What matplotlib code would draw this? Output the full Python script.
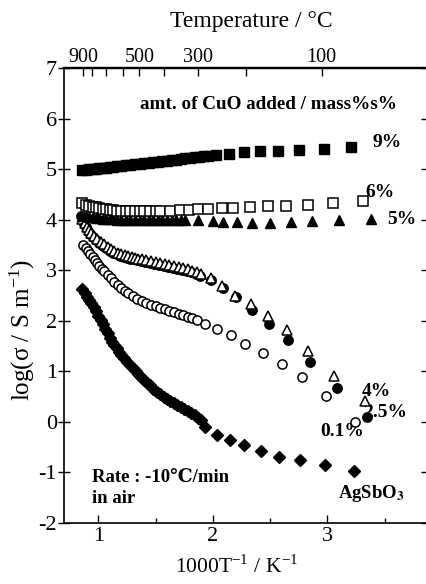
# Arrhenius plot of AgSbO3 with CuO additions (recreated)

import matplotlib
matplotlib.use("Agg")
import matplotlib.pyplot as plt

plt.rcParams['font.family'] = ['Liberation Serif', 'DejaVu Serif', 'DejaVu Sans']
plt.rcParams['mathtext.fontset'] = 'stix'
plt.rcParams['axes.unicode_minus'] = False

# --- data: x = 1000/T (K^-1), y = log(sigma / S m^-1) ---
cu9_x = [0.86, 0.89, 0.92, 0.95, 0.98, 1.01, 1.04, 1.07, 1.10, 1.13, 1.16, 1.20, 1.24,
         1.28, 1.32, 1.36, 1.40, 1.44, 1.48, 1.52, 1.56, 1.60, 1.64, 1.68, 1.72, 1.76,
         1.80, 1.84, 1.88, 1.92, 1.96, 2.03, 2.14, 2.27, 2.41, 2.57, 2.75, 2.97, 3.21]
cu9_y = [4.98, 4.99, 5.00, 5.00, 5.01, 5.02, 5.03, 5.03, 5.04, 5.05, 5.06, 5.07, 5.08,
         5.09, 5.10, 5.11, 5.12, 5.13, 5.14, 5.15, 5.16, 5.17, 5.18, 5.19, 5.20, 5.21,
         5.22, 5.23, 5.24, 5.25, 5.26, 5.27, 5.30, 5.33, 5.35, 5.36, 5.37, 5.40, 5.43]

cu6_x = [0.86, 0.89, 0.92, 0.95, 0.98, 1.01, 1.04, 1.07, 1.10, 1.13, 1.16, 1.20, 1.24,
         1.28, 1.32, 1.36, 1.40, 1.45, 1.50, 1.54, 1.63, 1.71, 1.79, 1.87, 1.96, 2.08,
         2.18, 2.32, 2.48, 2.64, 2.83, 3.05, 3.31]
cu6_y = [4.32, 4.30, 4.28, 4.26, 4.25, 4.23, 4.22, 4.21, 4.20, 4.19, 4.18, 4.18, 4.17,
         4.17, 4.17, 4.17, 4.17, 4.17, 4.17, 4.17, 4.18, 4.19, 4.20, 4.21, 4.22, 4.23,
         4.24, 4.25, 4.27, 4.28, 4.30, 4.33, 4.37]

cu5_x = [0.86, 0.89, 0.92, 0.95, 0.98, 1.01, 1.04, 1.07, 1.10, 1.13, 1.16, 1.20, 1.24,
         1.28, 1.32, 1.36, 1.40, 1.44, 1.48, 1.52, 1.56, 1.60, 1.64, 1.68, 1.72, 1.76,
         1.87, 2.00, 2.09, 2.21, 2.34, 2.50, 2.68, 2.87, 3.10, 3.38]
cu5_y = [4.08, 4.07, 4.06, 4.05, 4.04, 4.03, 4.02, 4.02, 4.01, 4.01, 4.00, 4.00, 3.99,
         3.99, 3.99, 3.99, 3.99, 3.99, 4.00, 4.00, 4.00, 4.00, 4.00, 4.00, 4.00, 4.00,
         3.99, 3.97, 3.96, 3.95, 3.94, 3.94, 3.95, 3.97, 4.00, 4.02]

cu4_x = [0.86, 0.88, 0.90, 0.92, 0.94, 0.96, 0.99, 1.02, 1.05, 1.08, 1.11, 1.14, 1.17,
         1.20, 1.23, 1.26, 1.29, 1.32, 1.35, 1.38, 1.42, 1.46, 1.50, 1.54, 1.58, 1.62,
         1.66, 1.70, 1.74, 1.78, 1.82, 1.86, 1.90, 1.98, 2.08, 2.19, 2.33, 2.48, 2.65,
         2.83, 3.06, 3.33]
cu4_y = [4.02, 3.94, 3.86, 3.79, 3.73, 3.68, 3.62, 3.56, 3.51, 3.46, 3.42, 3.38, 3.35,
         3.32, 3.30, 3.28, 3.26, 3.25, 3.23, 3.22, 3.20, 3.18, 3.16, 3.14, 3.12, 3.10,
         3.08, 3.06, 3.04, 3.02, 2.99, 2.96, 2.92, 2.84, 2.68, 2.50, 2.34, 2.10, 1.81,
         1.41, 0.91, 0.42]

cu25_x = [0.85, 0.87, 0.89, 0.91, 0.93, 0.95, 0.98, 1.01, 1.04, 1.07, 1.10, 1.13, 1.16,
          1.19, 1.22, 1.25, 1.28, 1.31, 1.34, 1.37, 1.41, 1.45, 1.49, 1.53, 1.57, 1.61,
          1.65, 1.69, 1.73, 1.77, 1.81, 1.85, 1.89, 1.98, 2.09, 2.20, 2.34, 2.49, 2.66,
          2.85, 3.08, 3.35]
cu25_y = [4.08, 3.96, 3.86, 3.78, 3.71, 3.65, 3.59, 3.53, 3.48, 3.43, 3.39, 3.35, 3.32,
          3.29, 3.27, 3.25, 3.23, 3.22, 3.20, 3.19, 3.17, 3.15, 3.13, 3.11, 3.09, 3.07,
          3.05, 3.03, 3.01, 2.99, 2.96, 2.93, 2.89, 2.80, 2.64, 2.48, 2.22, 1.94, 1.61,
          1.19, 0.67, 0.10]

cu01_x = [0.87, 0.89, 0.91, 0.93, 0.95, 0.97, 0.99, 1.01, 1.03, 1.05, 1.08, 1.11, 1.14,
          1.17, 1.20, 1.23, 1.26, 1.30, 1.34, 1.38, 1.42, 1.46, 1.50, 1.54, 1.58, 1.62,
          1.66, 1.70, 1.74, 1.78, 1.82, 1.86, 1.93, 2.04, 2.16, 2.28, 2.44, 2.60, 2.78,
          2.99, 3.24]
cu01_y = [3.50, 3.44, 3.38, 3.33, 3.27, 3.21, 3.15, 3.09, 3.03, 2.98, 2.91, 2.84, 2.77,
          2.71, 2.65, 2.59, 2.54, 2.49, 2.44, 2.40, 2.36, 2.32, 2.29, 2.26, 2.23, 2.20,
          2.17, 2.14, 2.11, 2.08, 2.05, 2.02, 1.93, 1.83, 1.71, 1.55, 1.37, 1.15, 0.89,
          0.52, 0.00]

ago_x = [0.86, 0.88, 0.90, 0.92, 0.94, 0.96, 0.98, 1.00, 1.02, 1.04, 1.06, 1.08, 1.10,
         1.12, 1.14, 1.16, 1.18, 1.20, 1.225, 1.25, 1.275, 1.30, 1.325, 1.35, 1.375,
         1.40, 1.425, 1.45, 1.48, 1.51, 1.54, 1.57, 1.60, 1.63, 1.66, 1.69, 1.72, 1.75,
         1.78, 1.81, 1.84, 1.87, 1.90, 1.93, 2.04, 2.15, 2.27, 2.42, 2.58, 2.76, 2.98,
         3.23]
ago_y = [2.62, 2.55, 2.48, 2.42, 2.35, 2.28, 2.19, 2.10, 2.01, 1.93, 1.84, 1.75, 1.66,
         1.59, 1.52, 1.46, 1.39, 1.33, 1.26, 1.19, 1.13, 1.07, 1.01, 0.95, 0.89, 0.83,
         0.77, 0.72, 0.65, 0.60, 0.55, 0.50, 0.46, 0.42, 0.38, 0.34, 0.30, 0.26, 0.21,
         0.17, 0.13, 0.08, 0.03, -0.10, -0.26, -0.36, -0.46, -0.58, -0.70, -0.75, -0.85,
         -0.97]

# top axis (temperature) ticks, positions
top_pos = [0.869, 0.942, 1.064, 1.213, 1.358, 1.576, 1.873, 2.289, 2.950]
top_labels = ['900', '', '', '', '500', '', '300', '', '100']


def main():
    fig = plt.figure(figsize=(4.26, 5.84), dpi=100)
    ax = fig.add_axes([64 / 426, 61 / 584, 363 / 426, 455 / 584])

    blk = 'black'
    ax.plot(ago_x, ago_y, 'D', color=blk, ms=6.3, ls='none')
    ax.plot(cu01_x, cu01_y, 'o', mfc='white', mec=blk, mew=1.1, ms=6.6, ls='none')
    ax.plot(cu25_x, cu25_y, 'o', color=blk, ms=6.8, ls='none')
    ax.plot(cu4_x, cu4_y, '^', mfc='white', mec=blk, mew=1.1, ms=7.5, ls='none')
    ax.plot(cu5_x, cu5_y, '^', color=blk, ms=7.5, ls='none')
    ax.plot(cu6_x, cu6_y, 's', mfc='white', mec=blk, mew=1.1, ms=6.8, ls='none')
    ax.plot(cu9_x, cu9_y, 's', color=blk, ms=7.0, ls='none')

    ax.set_xlim(0.7, 3.87)
    ax.set_ylim(-2, 7)

    ax.set_xticks([1, 2, 3])
    ax.set_xticks([1.5, 2.5, 3.5], minor=True)
    ax.set_yticks(range(-2, 8))
    ax.tick_params(axis='x', which='major', direction='in', length=6, width=1,
                   labelsize=16, pad=3)
    ax.tick_params(axis='x', which='minor', direction='in', length=3.5, width=1)
    ax.tick_params(axis='y', which='major', direction='inout', length=8, width=1,
                   labelsize=16, pad=1, right=True)
    ax.tick_params(axis='y', which='minor', left=False, right=False)
    for s in ax.spines.values():
        s.set_linewidth(1.2)
    ax.spines['top'].set_linewidth(1.6)

    sec = ax.secondary_xaxis('top')
    sec.set_xticks(top_pos, labels=top_labels)
    sec.tick_params(direction='in', length=6, width=1, labelsize=14.5, pad=1)
    sec.spines['top'].set_linewidth(1.6)

    fs = 13.8
    ax.text(1.364, 6.27, 'amt. of CuO added / mass%s%', fontsize=fs, fontweight='bold',
            ha='left', va='center')
    ax.text(3.39, 5.52, '9%', fontsize=14, fontweight='bold', va='center')
    ax.text(3.33, 4.53, '6%', fontsize=14, fontweight='bold', va='center')
    ax.text(3.52, 4.01, '5%', fontsize=14, fontweight='bold', va='center')
    ax.text(3.30, 0.60, '4%', fontsize=14, fontweight='bold', va='center')
    ax.text(3.695, 0.18, '2.5%', fontsize=14, fontweight='bold', ha='right', va='center',
            zorder=1)
    ax.text(2.935, -0.20, '0.1%', fontsize=14, fontweight='bold', va='center', zorder=1)
    ax.text(3.093, -1.41, r'AgSbO$_\mathbf{3}$', fontsize=13.5, fontweight='bold',
            va='center')
    ax.text(0.945, -1.09, 'Rate : -10\u2103/min', fontsize=13.5, fontweight='bold',
            va='center')
    ax.text(0.945, -1.51, 'in air', fontsize=13.5, fontweight='bold', va='center')

    fig.text(251 / 426, 1 - 21 / 584, 'Temperature / °C', fontsize=17,
             ha='center', va='center')
    fig.text(237 / 426, 1 - 567 / 584,
             r'1000T$^{\mathregular{-1}}$ / K$^{\mathregular{-1}}$', fontsize=15.5,
             ha='center', va='center')
    fig.text(22 / 426, 1 - 330 / 584, r'log(σ / S m$^{\mathregular{-1}}$)',
             fontsize=18, rotation=90, ha='center', va='center')

    fig.savefig('out.png', dpi=100)


if __name__ == "__main__":
    main()
